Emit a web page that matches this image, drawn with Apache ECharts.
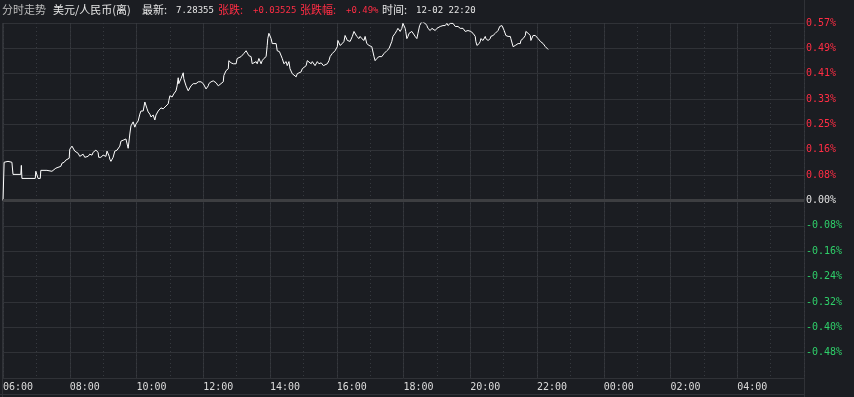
<!DOCTYPE html>
<html>
<head>
<meta charset="utf-8">
<script src="https://cdn.jsdelivr.net/npm/echarts@6/dist/echarts.min.js"></script>
<style>
html,body{margin:0;padding:0;background:#1b1d22;}
#c{width:854px;height:397px;}
</style>
</head>
<body>
<div id="c"></div>
<script>
// minutes after 06:00
const minutes = [0,2,9,16,18,32,33,34,58,59,63,67,68,79,81,88,90,95,97,104,106,110,113,119,120,124,129,
135,138,144,147,153,156,160,162,165,167,171,172,174,176,180,183,185,187,191,192,194,198,201,205,207,210,212,216,219,221,225,227,228,230,234,237,239,243,246,248,252,255,257,259,261,264,266,270,273,275,279,
284,288,293,297,298,300,304,306,307,311,313,315,316,320,324,325,329,333,334,338,342,343,347,351,354,356,360,361,365,369,370,374,378,379,383,387,388,390,396,397,401,405,406,410,414,419,
421,428,433,437,439,442,446,448,451,455,457,460,464,466,469,473,475,476,478,482,484,487,491,493,497,500,502,505,509,511,514,516,520,523,527,529,532,536,538,541,545,547,550,554,556,561,
565,568,572,576,578,583,586,588,592,595,597,601,602,606,610,613,615,619,622,624,628,631,633,636,640,642,645,649,651,654,658,660,663,667,669,672,676,678,681,685,687,690,694,696,
699,701,705,708,710,714,717,719,721,723,724,726,728,730,735,737,741,744,746,749,753,755,759,762,764,768,771,773,777,780,782,786,789,791,795,798,800,804,807,809,813,816,818,822,825,827,831,834,836,
841,845,849,850,852,856,858,859,863,867,868,872,876,877,881,885,886,890,893,897,901,903,904,908,912,913,917,921,922,926,930,931,935,939,940,944,948,949,953,957,958,962,966,967,971,975,976,980];

// change vs previous close, percent
const changePct = [0,0.123,0.126,0.123,0.084,0.084,0.113,0.071,0.071,0.094,0.071,0.071,0.097,0.097,0.094,0.094,0.100,0.104,0.110,0.110,0.120,0.123,0.130,0.136,0.165,0.175,0.159,
0.152,0.142,0.149,0.139,0.142,0.149,0.146,0.155,0.159,0.162,0.155,0.139,0.142,0.139,0.146,0.149,0.142,0.159,0.142,0.133,0.126,0.139,0.159,0.162,0.165,0.175,0.191,0.194,0.188,0.198,0.168,0.198,0.214,0.240,0.253,0.236,0.246,0.256,0.278,0.288,0.288,0.317,0.321,0.295,0.285,0.278,0.269,0.275,0.259,0.275,0.288,
0.298,0.295,0.304,0.311,0.321,0.337,0.333,0.337,0.343,0.353,0.369,0.395,0.376,0.392,0.411,0.392,0.369,0.353,0.359,0.369,0.376,0.382,0.376,0.382,0.379,0.382,0.376,0.382,0.359,0.369,0.376,0.382,0.385,0.382,0.379,0.369,0.366,0.372,0.382,0.402,0.418,0.424,0.450,0.443,0.440,0.440,
0.457,0.463,0.473,0.482,0.479,0.466,0.463,0.440,0.434,0.447,0.440,0.457,0.440,0.450,0.457,0.463,0.499,0.521,0.538,0.521,0.505,0.499,0.505,0.482,0.479,0.479,0.457,0.440,0.447,0.434,0.447,0.424,0.408,0.414,0.398,0.408,0.414,0.414,0.424,0.418,0.434,0.450,0.447,0.440,0.447,0.434,
0.447,0.440,0.443,0.434,0.431,0.440,0.450,0.463,0.473,0.476,0.482,0.495,0.515,0.499,0.505,0.512,0.531,0.515,0.521,0.512,0.528,0.544,0.538,0.528,0.521,0.528,0.521,0.515,0.528,0.505,0.499,0.505,0.495,0.463,0.450,0.457,0.463,0.457,0.463,0.473,0.479,0.482,0.489,0.495,
0.512,0.528,0.538,0.547,0.554,0.544,0.554,0.570,0.576,0.554,0.544,0.521,0.528,0.538,0.544,0.547,0.528,0.521,0.538,0.563,0.576,0.576,0.570,0.563,0.554,0.547,0.554,0.554,0.547,0.554,0.554,0.560,0.560,0.563,0.563,0.570,0.563,0.570,0.576,0.570,0.560,0.563,0.560,0.554,0.560,0.554,0.544,0.547,0.547,
0.544,0.538,0.528,0.512,0.499,0.505,0.512,0.521,0.515,0.528,0.521,0.515,0.521,0.528,0.531,0.538,0.544,0.547,0.560,0.563,0.547,0.544,0.531,0.528,0.528,0.521,0.495,0.499,0.499,0.505,0.505,0.515,0.521,0.531,0.544,0.538,0.531,0.515,0.531,0.531,0.528,0.521,0.512,0.515,0.505,0.495,0.489,0.486];

const xTickLabels = ['06:00','08:00','10:00','12:00','14:00','16:00','18:00','20:00','22:00','00:00','02:00','04:00',''];
const yTickLabels = ['','-0.48%','-0.40%','-0.32%','-0.24%','-0.16%','-0.08%','0.00%','0.08%','0.16%','0.25%','0.33%','0.41%','0.49%','0.57%'];
const yStep = 0.0816;

// [text, left, colour, isNumeric]
const titleParts = [
  ['分时走势', 2, '#bdbdbd', 0],
  ['美元/人民币(离)', 53, '#e6e6e6', 0],
  ['最新:', 142, '#e6e6e6', 0],
  ['7.28355', 176, '#e6e6e6', 1],
  ['张跌:', 218, '#ff2d44', 0],
  ['+0.03525', 253, '#ff2d44', 1],
  ['张跌幅:', 300, '#ff2d44', 0],
  ['+0.49%', 346, '#ff2d44', 1],
  ['时间:', 382, '#e6e6e6', 0],
  ['12-02 22:20', 416, '#e6e6e6', 1]
];

const RED = '#ff2d44', GREEN = '#2fcf6a', GRID = '#303237';
const chart = echarts.init(document.getElementById('c'));
const graphics = titleParts.map(p => ({
  type: 'text', left: p[1], top: p[3] ? 6 : 4, silent: true,
  style: { text: p[0], fill: p[2],
    font: p[3] ? '9px "DejaVu Sans Mono", monospace' : '11px "Noto Sans CJK SC", sans-serif' }
}));
graphics.push({type:'line', shape:{x1:804.5,y1:0,x2:804.5,y2:397}, style:{stroke:GRID,lineWidth:1}, silent:true});
graphics.push({type:'line', shape:{x1:2.5,y1:23,x2:2.5,y2:397}, style:{stroke:GRID,lineWidth:1}, silent:true});
graphics.push({type:'line', shape:{x1:0,y1:394.5,x2:804,y2:394.5}, style:{stroke:GRID,lineWidth:1}, silent:true});

chart.setOption({
  animation: false,
  backgroundColor: '#1b1d22',
  graphic: graphics,
  grid: { left: 3, right: 50, top: 23, bottom: 19, show: false },
  xAxis: [
    { type: 'value', min: 0, max: 1440, interval: 120,
      axisLine: { show: true, lineStyle: { color: GRID } },
      axisTick: { show: false },
      splitLine: { show: true, lineStyle: { color: GRID, width: 1 } },
      axisLabel: { color: '#dcdcdc', fontFamily: 'DejaVu Sans Mono', fontSize: 10, align: 'left', margin: 4,
        formatter: (v, i) => xTickLabels[Math.round(v / 120)] || '' } },
    { type: 'value', min: 0, max: 1440, interval: 60, show: true, position: 'bottom',
      axisLine: { show: false }, axisTick: { show: false }, axisLabel: { show: false },
      splitLine: { show: true, lineStyle: { color: '#373a40', width: 1, type: [1, 3] } } }
  ],
  yAxis: {
    type: 'value', position: 'right', min: -7 * yStep, max: 7 * yStep, interval: yStep,
    axisLine: { show: false }, axisTick: { show: false },
    splitLine: { show: true, lineStyle: { color: GRID, width: 1 } },
    axisLabel: { fontFamily: 'DejaVu Sans Mono', fontSize: 10, margin: 2, align: 'left',
      formatter: (v) => yTickLabels[Math.round(v / yStep) + 7] || '',
      color: (v) => { const k = Math.round(v / yStep); return k > 0 ? RED : (k < 0 ? GREEN : '#e0e0e0'); } }
  },
  series: [{
    type: 'line', xAxisIndex: 0,
    data: minutes.map((m, i) => [m, changePct[i]]),
    showSymbol: false, symbol: 'none',
    lineStyle: { color: '#ffffff', width: 1 },
    markLine: { silent: true, symbol: 'none', label: { show: false },
      lineStyle: { color: '#3d3e41', width: 3, type: 'solid' },
      data: [{ yAxis: 0 }] }
  }]
});
</script>
</body>
</html>
